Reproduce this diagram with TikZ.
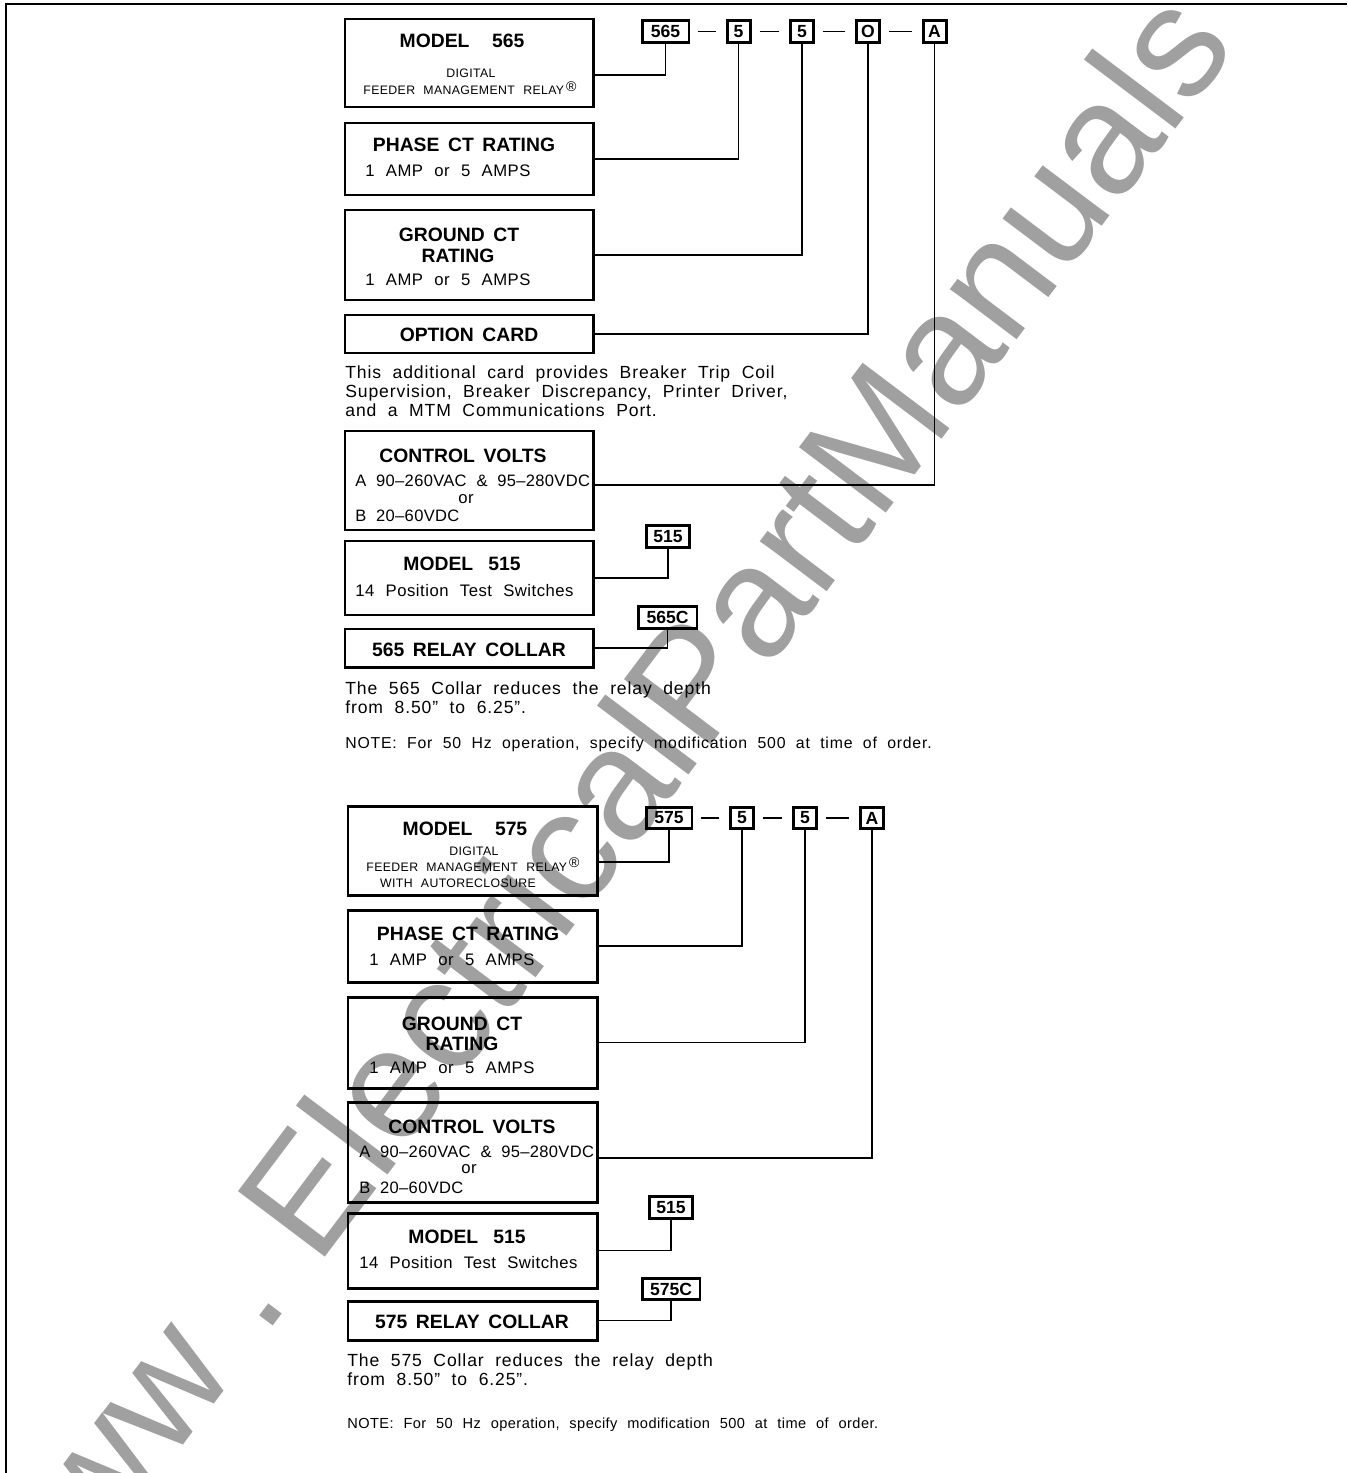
\documentclass[tikz,border=0pt]{standalone}
\usepackage{fontspec}
\setmainfont{Liberation Sans}
\newfontfamily\boxfont[WordSpace=2.2,LetterSpace=3]{Liberation Sans}
\newfontfamily\voltfont[WordSpace=2.0,LetterSpace=2]{Liberation Sans}
\newfontfamily\parafont[WordSpace=2,LetterSpace=5]{Liberation Sans}
\newfontfamily\headfont[WordSpace=1.6]{Liberation Sans}
\usetikzlibrary{positioning,fit}
\definecolor{markgray}{RGB}{160,160,160}

\begin{document}
\begin{tikzpicture}[x=0.02cm, y=-0.02cm]
    \tikzstyle{box} = [draw, line width=1.7pt, inner sep=0pt]
    \tikzstyle{code} = [draw, line width=1.7pt, inner sep=0pt, minimum height=0.43cm, minimum width=0.46cm, font=\headfont\bfseries\fontsize{10}{12}\selectfont]
    \tikzstyle{head} = [inner sep=0pt, anchor=base, font=\headfont\bfseries\fontsize{11}{13}\selectfont]
    \tikzstyle{small} = [inner sep=0pt, anchor=base, font=\boxfont\fontsize{7}{8}\selectfont]
    \tikzstyle{textline} = [inner sep=0pt, anchor=base west, font=\boxfont\fontsize{9.5}{11}\selectfont]
    \tikzstyle{voltline} = [inner sep=0pt, anchor=base west, font=\voltfont\fontsize{9.4}{11}\selectfont]
    \tikzstyle{para} = [inner sep=0pt, anchor=north west, align=left, font=\parafont\fontsize{10}{10.8}\selectfont]
    \tikzstyle{wire} = [line width=0.6pt]
    \tikzstyle{sep} = [line width=0.6pt, shorten <=0.16cm, shorten >=0.2cm]
    \useasboundingbox (0,0) rectangle (1347,1473);

    % watermark
    \node[rotate=53, text=markgray, font=\fontsize{90}{90}\selectfont] (mark) at (590,812) {www\ .\ ElectricalPartManuals};

    % frame
    \coordinate (corner) at (6,4);
    \draw[line width=1pt] (1347,4) -- (corner) -- (6,1473);

    % ---- model 565 ----
    \node[box, fit={(345,19) (593,107)}] (m565) {};
    \node[head] (m565t) at (462,48) {MODEL\hspace{0.45cm}565};
    \node[small] (m565a) at (471,78) {DIGITAL};
    \node[small] (m565b) at (470,95) {FEEDER MANAGEMENT RELAY\,\raisebox{0.5ex}{\fontsize{8}{8}\selectfont ®}};

    \node[box, fit={(345,123) (593,195)}] (phase1) {};
    \node[head] (phase1t) at (464,152) {PHASE CT RATING};
    \node[textline] (phase1a) at (365,177) {1 AMP or 5 AMPS};

    \node[box, fit={(345,210) (593,300)}] (ground1) {};
    \node[head] (ground1t) at (459,241) {GROUND CT};
    \node[head] (ground1u) at (458,262) {RATING};
    \node[textline] (ground1a) at (365,285) {1 AMP or 5 AMPS};

    \node[box, fit={(345,315) (593,353)}] (option) {};
    \node[head] (optiont) at (469,341) {OPTION CARD};
    \node[para] (optionp) at (345,365) {This additional card provides Breaker Trip Coil\\Supervision, Breaker Discrepancy, Printer Driver,\\and a MTM Communications Port.};

    \node[box, fit={(345,431) (593,530)}] (volts1) {};
    \node[head] (volts1t) at (463,462) {CONTROL VOLTS};
    \node[voltline] (volts1a) at (355,486) {A 90–260VAC \& 95–280VDC};
    \node[textline, anchor=base] (volts1o) at (466,503) {or};
    \node[voltline] (volts1b) at (355,521) {B 20–60VDC};

    \node[box, fit={(345,541) (593,615)}] (sw1) {};
    \node[head] (sw1t) at (462,570) {MODEL\hspace{0.3cm}515};
    \node[textline] (sw1a) at (355,596) {14 Position Test Switches};

    \node[box, fit={(345,629) (593,667)}] (collar1) {};
    \node[head] (collar1t) at (469,656) {565 RELAY COLLAR};
    \node[para] (collar1p) at (345,681) {The 565 Collar reduces the relay depth\\from 8.50” to 6.25”.};
    \node[para, anchor=base west, font=\parafont\fontsize{9}{11}\selectfont] (note1) at (345,748) {NOTE: For 50 Hz operation, specify modification 500 at time of order.};

    % order code 565
    \node[code, minimum width=0.94cm] (c565) at (665.5,31.5) {565};
    \node[code] (cp1) at (738.5,31.5) {5};
    \node[code] (cg1) at (802,31.5) {5};
    \node[code] (co1) at (868,31.5) {O};
    \node[code] (cv1) at (934.5,31.5) {A};
    \node[code, minimum width=0.86cm] (cs1) at (668,536.5) {515};
    \node[code, minimum width=1.18cm] (cc1) at (667.5,617.5) {565C};
    \draw[sep] (c565) -- (cp1);
    \draw[sep] (cp1) -- (cg1);
    \draw[sep] (cg1) -- (co1);
    \draw[sep] (co1) -- (cv1);

    \draw[wire] (c565) |- ([yshift=-0.24cm]m565.east);
    \draw[wire] (cp1) |- (phase1.east);
    \draw[wire] (cg1) |- (ground1.east);
    \draw[wire] (co1) |- (option.east);
    \draw[wire] (cv1) |- ([yshift=-0.09cm]volts1.east);
    \draw[wire] (cs1) |- (sw1.east);
    \draw[wire] (cc1) |- (collar1.east);

    % ---- model 575 ----
    \node[box, fit={(348,806) (597,895)}] (m575) {};
    \node[head] (m575t) at (465,835) {MODEL\hspace{0.45cm}575};
    \node[small] (m575a) at (474,855) {DIGITAL};
    \node[small] (m575b) at (473,871) {FEEDER MANAGEMENT RELAY\,\raisebox{0.5ex}{\fontsize{8}{8}\selectfont ®}};
    \node[small] (m575c) at (458,887) {WITH AUTORECLOSURE};

    \node[box, fit={(348,910) (597,982)}] (phase2) {};
    \node[head] (phase2t) at (468,940) {PHASE CT RATING};
    \node[textline] (phase2a) at (369,965) {1 AMP or 5 AMPS};

    \node[box, fit={(348,997) (597,1088)}] (ground2) {};
    \node[head] (ground2t) at (462,1030) {GROUND CT};
    \node[head] (ground2u) at (462,1050) {RATING};
    \node[textline] (ground2a) at (369,1073) {1 AMP or 5 AMPS};

    \node[box, fit={(348,1102) (597,1202)}] (volts2) {};
    \node[head] (volts2t) at (472,1133) {CONTROL VOLTS};
    \node[voltline] (volts2a) at (359,1157) {A 90–260VAC \& 95–280VDC};
    \node[textline, anchor=base] (volts2o) at (469,1173) {or};
    \node[voltline] (volts2b) at (359,1193) {B 20–60VDC};

    \node[box, fit={(348,1213) (597,1288)}] (sw2) {};
    \node[head] (sw2t) at (467,1243) {MODEL\hspace{0.3cm}515};
    \node[textline] (sw2a) at (359,1268) {14 Position Test Switches};

    \node[box, fit={(348,1301) (597,1340)}] (collar2) {};
    \node[head] (collar2t) at (472,1328) {575 RELAY COLLAR};
    \node[para] (collar2p) at (347,1353) {The 575 Collar reduces the relay depth\\from 8.50” to 6.25”.};
    \node[textline, font=\boxfont\fontsize{8.3}{10}\selectfont] (note2) at (347,1428) {NOTE: For 50 Hz operation, specify modification 500 at time of order.};

    % order code 575
    \node[code, minimum width=0.92cm] (c575) at (669,818) {575};
    \node[code] (cp2) at (742,818) {5};
    \node[code] (cg2) at (805,818) {5};
    \node[code] (cv2) at (872,818) {A};
    \node[code, minimum width=0.86cm] (cs2) at (671,1207.5) {515};
    \node[code, minimum width=1.16cm] (cc2) at (671,1289) {575C};
    \draw[sep] (c575) -- (cp2);
    \draw[sep] (cp2) -- (cg2);
    \draw[sep] (cg2) -- (cv2);

    \draw[wire] (c575) |- ([yshift=-0.23cm]m575.east);
    \draw[wire] (cp2) |- (phase2.east);
    \draw[wire] (cg2) |- (ground2.east);
    \draw[wire] (cv2) |- ([yshift=-0.12cm]volts2.east);
    \draw[wire] (cs2) |- (sw2.east);
    \draw[wire] (cc2) |- (collar2.east);
\end{tikzpicture}
\end{document}
